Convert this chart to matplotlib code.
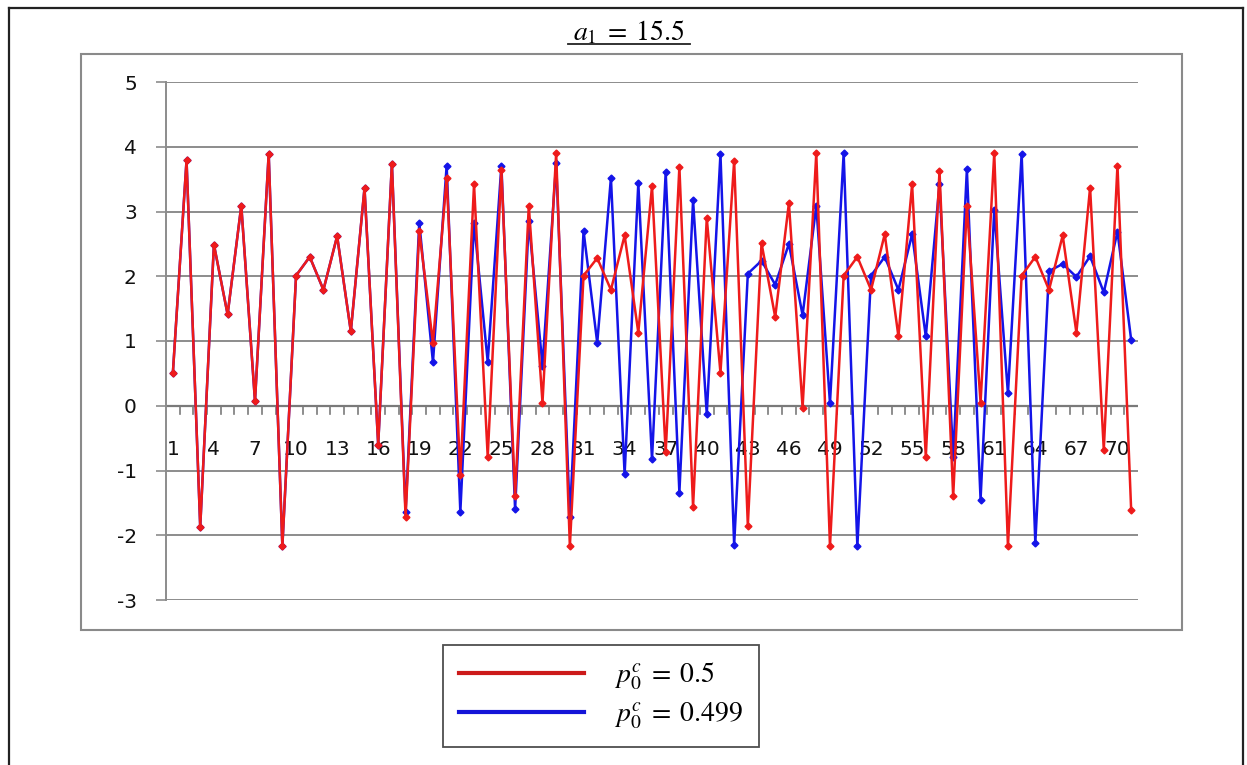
import numpy as np
import matplotlib
matplotlib.use("Agg")
import matplotlib.pyplot as plt
from matplotlib.lines import Line2D
from matplotlib.patches import Rectangle

plt.rcParams["mathtext.fontset"] = "stix"
plt.rcParams["axes.unicode_minus"] = False

# step index
steps = list(range(1, 72))

# p0c = 0.5
red_vals = [0.50, 3.79, -1.87, 2.49, 1.41, 3.09, 0.07, 3.89, -2.17, 2.01,
            2.30, 1.79, 2.62, 1.15, 3.36, -0.60, 3.74, -1.72, 2.70, 0.97,
            3.52, -1.07, 3.42, -0.79, 3.64, -1.40, 3.09, 0.05, 3.90, -2.17,
            2.01, 2.28, 1.79, 2.63, 1.13, 3.39, -0.72, 3.69, -1.56, 2.90,
            0.51, 3.78, -1.85, 2.51, 1.37, 3.13, -0.03, 3.90, -2.17, 2.01,
            2.30, 1.79, 2.65, 1.07, 3.42, -0.79, 3.63, -1.40, 3.09, 0.05,
            3.90, -2.17, 2.01, 2.30, 1.79, 2.63, 1.13, 3.37, -0.68, 3.71, -1.61]

# p0c = 0.499
blue_vals = [0.50, 3.79, -1.87, 2.49, 1.41, 3.09, 0.07, 3.89, -2.17, 2.01,
             2.30, 1.79, 2.62, 1.15, 3.36, -0.60, 3.74, -1.64, 2.83, 0.67,
             3.71, -1.64, 2.83, 0.68, 3.71, -1.60, 2.85, 0.62, 3.75, -1.72,
             2.70, 0.97, 3.52, -1.06, 3.44, -0.83, 3.61, -1.34, 3.17, -0.13,
             3.89, -2.15, 2.04, 2.24, 1.87, 2.50, 1.40, 3.09, 0.04, 3.90,
             -2.17, 2.01, 2.30, 1.79, 2.65, 1.07, 3.42, -0.79, 3.65, -1.45,
             3.03, 0.19, 3.89, -2.12, 2.08, 2.19, 1.99, 2.31, 1.75, 2.69, 1.02]

title_text = r"$a_1\;=\;15.5$"
red_label = r"$p_0^c\;=\;0.5$"
blue_label = r"$p_0^c\;=\;0.499$"
y_ticks = [5, 4, 3, 2, 1, 0, -1, -2, -3]
x_labels = list(range(1, 72, 3))

W, H = 1247, 765
fig = plt.figure(figsize=(W / 100, H / 100), dpi=100)

def fx(px):
    return px / W

def fy(py):
    return 1 - py / H

# outer border (left, top, right)
for xs, ys in [((9, 9), (8, 770)), ((9, 1243), (8, 8)), ((1243, 1243), (8, 770))]:
    fig.add_artist(Line2D([fx(x) for x in xs], [fy(y) for y in ys],
                          color="#222222", lw=1.6, transform=fig.transFigure))

# chart area frame
fig.add_artist(Rectangle((fx(81), fy(630)), fx(1182) - fx(81), fy(54) - fy(630),
                         transform=fig.transFigure, fill=False,
                         edgecolor="#8a8a8a", lw=1.5))

ax = fig.add_axes([fx(166), fy(600), fx(1138) - fx(166), fy(82) - fy(600)])

ax.plot(steps, blue_vals, color="#1414e8", lw=1.8, marker="D", markersize=3.5,
        label=blue_label, zorder=3)
ax.plot(steps, red_vals, color="#ee1b1b", lw=1.8, marker="D", markersize=3.5,
        label=red_label, zorder=4)

ax.set_xlim(0.5, 71.5)
ax.set_ylim(-3, 5)

ax.set_yticks(y_ticks)
ax.yaxis.grid(True, color="#8c8c8c", lw=1.4)
ax.set_axisbelow(True)
ax.tick_params(axis="y", length=7, width=1.2, color="#8c8c8c", pad=14,
               labelsize=14.5, labelcolor="#111111")

# category axis drawn at y = 0
for s in ["top", "right", "bottom"]:
    ax.spines[s].set_visible(False)
ax.spines["left"].set_color("#8c8c8c")
ax.spines["left"].set_linewidth(1.4)
ax.axhline(0, color="#7a7a7a", lw=1.6, zorder=2)

ax.set_xticks(x_labels)
ax.set_xticklabels([str(v) for v in x_labels])
ax.tick_params(axis="x", length=0, labelsize=14.5, labelcolor="#111111", pad=0)
# labels sit next to the zero line
for t in ax.xaxis.get_major_ticks():
    t.label1.set_transform(ax.transData)
    t.label1.set_y(-0.68)
    t.label1.set_verticalalignment("center")
# little tick marks hanging below the zero line
for m in np.arange(1.5, 71.5, 1):
    ax.plot([m, m], [0, -0.12], color="#7a7a7a", lw=1.2, zorder=2)

# title
fig.text(fx(629), fy(32), title_text, ha="center", va="center", fontsize=20)
fig.add_artist(Line2D([fx(568), fx(690)], [fy(44), fy(44)], color="#222222",
                      lw=1.3, transform=fig.transFigure))

handles = [Line2D([], [], color="#cc1a1a", lw=3), Line2D([], [], color="#1414d8", lw=3)]
fig.legend(handles, [red_label, blue_label], loc="center",
           bbox_to_anchor=(fx(601), fy(696)), fontsize=20, frameon=True,
           fancybox=False, edgecolor="#222222", handlelength=4.5,
           handletextpad=1.1, borderpad=0.55, labelspacing=0.3, borderaxespad=0)
leg = fig.legends[0]
leg.get_frame().set_linewidth(1.3)

fig.savefig("out.png", dpi=100)
